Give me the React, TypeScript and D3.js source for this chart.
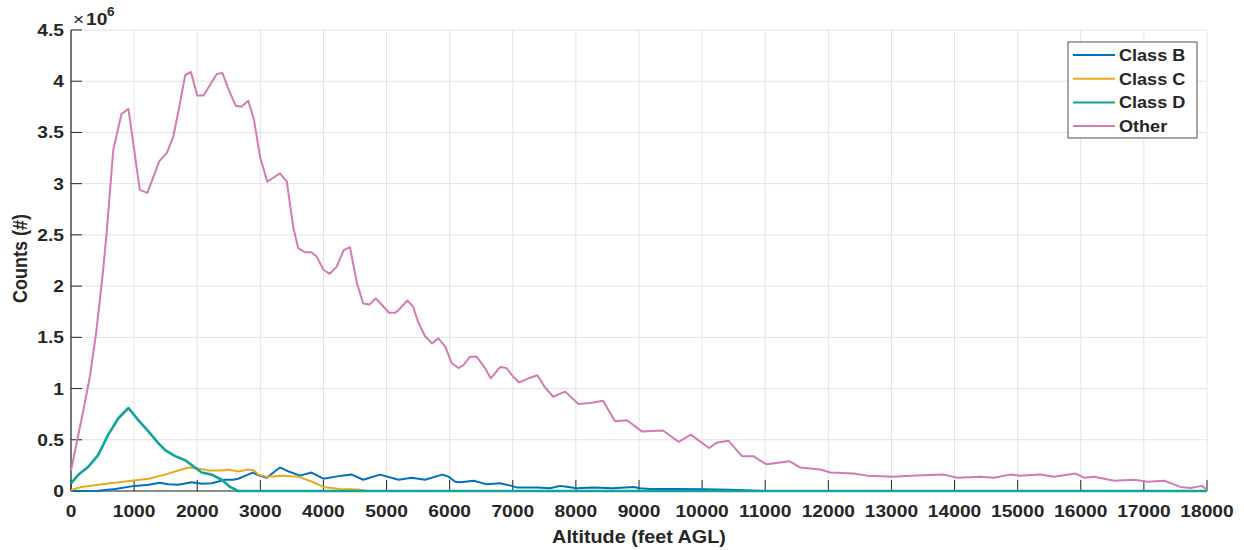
import React from "react";
import * as d3 from "d3";

// Altitude bins (feet AGL) and counts (in millions) for each airspace class
const classBAlt = [0, 430, 700, 1010, 1230, 1410, 1540, 1700, 1910, 2070, 2230, 2440, 2570, 2650, 2840, 2890, 2940, 3100, 3310, 3450, 3630, 3810, 4000, 4290, 4450, 4630, 4900, 5190, 5400, 5610, 5880, 5980, 6090, 6170, 6380, 6590, 6800, 6980, 7060, 7380, 7590, 7750, 7880, 8010, 8280, 8590, 8910, 9020, 9180, 9600, 10020, 10440, 11000, 18000];
const classBCounts = [0, 0.003, 0.02, 0.05, 0.06, 0.08, 0.065, 0.06, 0.085, 0.07, 0.075, 0.11, 0.11, 0.12, 0.17, 0.18, 0.16, 0.13, 0.23, 0.19, 0.15, 0.18, 0.12, 0.15, 0.16, 0.11, 0.16, 0.11, 0.13, 0.11, 0.16, 0.14, 0.09, 0.085, 0.1, 0.065, 0.075, 0.05, 0.035, 0.035, 0.026, 0.05, 0.04, 0.026, 0.035, 0.026, 0.04, 0.026, 0.02, 0.02, 0.016, 0.013, 0, 0];

const classCAlt = [0, 170, 430, 700, 960, 1230, 1490, 1700, 1860, 2020, 2180, 2390, 2490, 2650, 2810, 2900, 2970, 3100, 3380, 3600, 3820, 4000, 4250, 4550, 4700, 18000];
const classCCounts = [0.01, 0.04, 0.06, 0.08, 0.1, 0.12, 0.16, 0.2, 0.23, 0.22, 0.2, 0.2, 0.21, 0.19, 0.21, 0.2, 0.16, 0.14, 0.15, 0.14, 0.09, 0.04, 0.02, 0.015, 0, 0];

const classDAlt = [0, 120, 280, 430, 590, 750, 910, 1070, 1230, 1380, 1490, 1650, 1810, 1940, 2070, 2230, 2390, 2520, 2650, 18000];
const classDCounts = [0.075, 0.16, 0.24, 0.35, 0.55, 0.71, 0.81, 0.69, 0.58, 0.47, 0.4, 0.34, 0.3, 0.24, 0.18, 0.16, 0.11, 0.04, 0, 0];

const otherAlt = [0, 100, 200, 300, 400, 500, 565, 670, 800, 910, 1090, 1210, 1400, 1520, 1620, 1700, 1810, 1900, 2000, 2100, 2200, 2310, 2400, 2490, 2610, 2700, 2810, 2900, 3000, 3110, 3210, 3310, 3420, 3520, 3600, 3710, 3810, 3890, 4000, 4100, 4210, 4320, 4420, 4530, 4630, 4730, 4830, 4920, 5040, 5140, 5210, 5330, 5420, 5500, 5610, 5720, 5820, 5930, 6030, 6140, 6220, 6320, 6430, 6560, 6650, 6800, 6900, 7000, 7100, 7250, 7390, 7500, 7640, 7830, 8040, 8230, 8430, 8620, 8810, 9050, 9380, 9630, 9820, 10110, 10230, 10420, 10630, 10810, 11020, 11390, 11550, 11870, 12030, 12400, 12610, 13030, 13300, 13830, 14040, 14410, 14620, 14880, 15040, 15360, 15570, 15920, 16050, 16210, 16530, 16840, 17060, 17320, 17580, 17740, 17920, 18000];
const otherCounts = [0.2, 0.5, 0.8, 1.12, 1.55, 2.1, 2.52, 3.33, 3.68, 3.73, 2.94, 2.91, 3.22, 3.3, 3.46, 3.7, 4.06, 4.09, 3.86, 3.86, 3.96, 4.07, 4.08, 3.93, 3.76, 3.75, 3.81, 3.62, 3.25, 3.02, 3.06, 3.1, 3.02, 2.58, 2.37, 2.33, 2.33, 2.29, 2.16, 2.12, 2.19, 2.35, 2.38, 2.03, 1.83, 1.82, 1.88, 1.82, 1.74, 1.74, 1.78, 1.86, 1.8, 1.65, 1.51, 1.44, 1.49, 1.41, 1.25, 1.2, 1.23, 1.31, 1.31, 1.2, 1.1, 1.21, 1.2, 1.12, 1.06, 1.1, 1.13, 1.02, 0.92, 0.97, 0.85, 0.86, 0.88, 0.68, 0.69, 0.58, 0.59, 0.48, 0.55, 0.42, 0.47, 0.49, 0.34, 0.34, 0.26, 0.29, 0.23, 0.21, 0.18, 0.17, 0.15, 0.14, 0.15, 0.16, 0.13, 0.14, 0.13, 0.16, 0.15, 0.16, 0.14, 0.17, 0.13, 0.14, 0.1, 0.11, 0.09, 0.1, 0.04, 0.03, 0.05, 0.01];

const seriesNames = ["Class B", "Class C", "Class D", "Other"];
const seriesColors = ["#0072BD", "#EDA81E", "#12A39A", "#D47AB4"];
const seriesWidths = [2, 2, 2.6, 2];

const xTicks = d3.range(0, 18001, 1000);
const yTicks = [0, 0.5, 1, 1.5, 2, 2.5, 3, 3.5, 4, 4.5];

const W = 1244;
const H = 550;
const left = 71;
const right = 1207;
const top = 30;
const bottom = 491;
const ink = "#262626";
const font = "'Liberation Sans', Arial, sans-serif";
const stretch = 1.13;

function Label(props: { x: number; y: number; size: number; anchor?: string; rotate?: number; weight?: string; children: React.ReactNode }) {
  const { x, y, size, anchor = "middle", rotate = 0, weight = "bold", children } = props;
  const tf = rotate
    ? `translate(${x},${y}) rotate(${rotate}) scale(1,${stretch})`
    : `translate(${x},${y}) scale(${stretch},1)`;
  return (
    <text transform={tf} fontSize={size} fontWeight={weight} fontFamily={font} fill={ink} textAnchor={anchor as any}>
      {children}
    </text>
  );
}

export default function App() {
  const x = d3.scaleLinear().domain([0, 18000]).range([left, right]);
  const y = d3.scaleLinear().domain([0, 4.5]).range([bottom, top]);

  const series = [
    { alt: classBAlt, counts: classBCounts },
    { alt: classCAlt, counts: classCCounts },
    { alt: classDAlt, counts: classDCounts },
    { alt: otherAlt, counts: otherCounts },
  ];

  const line = d3
    .line<[number, number]>()
    .x((d) => x(d[0]))
    .y((d) => y(d[1]));

  const legendX = 1068;
  const legendY = 42;
  const legendW = 129;
  const legendH = 96;
  const rowGap = 23.7;

  return (
    <svg width={W} height={H} style={{ position: "absolute", left: 0, top: 0, background: "#fff" }}>
      <rect width={W} height={H} fill="#fff" />
      {/* grid */}
      {xTicks.map((t) => (
        <line key={"gx" + t} x1={x(t)} x2={x(t)} y1={top} y2={bottom} stroke="#e3e3e3" strokeWidth={1} />
      ))}
      {yTicks.map((t) => (
        <line key={"gy" + t} x1={left} x2={right} y1={y(t)} y2={y(t)} stroke="#e3e3e3" strokeWidth={1} />
      ))}
      {/* axes */}
      <line x1={left} x2={left} y1={top} y2={bottom} stroke={ink} strokeWidth={1.2} />
      <line x1={left} x2={right} y1={bottom} y2={bottom} stroke={ink} strokeWidth={1.2} />
      {xTicks.map((t) => (
        <line key={"tx" + t} x1={x(t)} x2={x(t)} y1={bottom} y2={bottom - 11} stroke={ink} strokeWidth={1} />
      ))}
      {yTicks.map((t) => (
        <line key={"ty" + t} x1={left} x2={left + 11} y1={y(t)} y2={y(t)} stroke={ink} strokeWidth={1} />
      ))}
      {/* series */}
      {series.map((s, i) => (
        <path
          key={seriesNames[i]}
          d={line(s.alt.map((a, j) => [a, s.counts[j]] as [number, number])) || ""}
          fill="none"
          stroke={seriesColors[i]}
          strokeWidth={seriesWidths[i]}
          strokeLinejoin="round"
        />
      ))}
      {/* tick labels */}
      {xTicks.map((t) => (
        <Label key={"lx" + t} x={x(t)} y={517} size={17}>
          {String(t)}
        </Label>
      ))}
      {yTicks.map((t) => (
        <Label key={"ly" + t} x={left - 7} y={y(t) + 6} size={17} anchor="end">
          {String(t)}
        </Label>
      ))}
      {/* exponent */}
      <Label x={73} y={25} size={17} anchor="start" weight="normal">
        ×
      </Label>
      <Label x={86} y={25} size={17} anchor="start">
        10
      </Label>
      <Label x={107} y={16} size={12} anchor="start">
        6
      </Label>
      {/* axis titles */}
      <Label x={(left + right) / 2} y={543} size={17.5}>
        Altitude (feet AGL)
      </Label>
      <Label x={27} y={y(2.25) - 2} size={18} rotate={-90}>
        Counts (#)
      </Label>
      {/* legend */}
      <rect x={legendX} y={legendY} width={legendW} height={legendH} fill="#fff" stroke={ink} strokeWidth={0.8} />
      {seriesNames.map((name, i) => {
        const ry = legendY + 13 + i * rowGap;
        return (
          <g key={"lg" + name}>
            <line x1={legendX + 5} x2={legendX + 47} y1={ry} y2={ry} stroke={seriesColors[i]} strokeWidth={2} />
            <Label x={legendX + 51} y={ry + 6} size={16} anchor="start">
              {name}
            </Label>
          </g>
        );
      })}
    </svg>
  );
}
